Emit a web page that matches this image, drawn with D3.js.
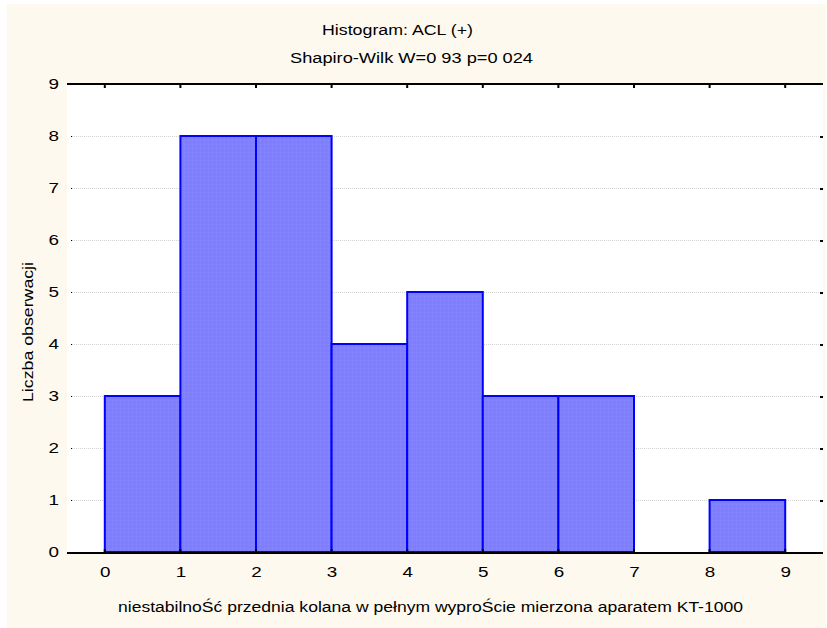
<!DOCTYPE html>
<html>
<head>
<meta charset="utf-8">
<script src="https://cdn.jsdelivr.net/npm/d3@7"></script>
<style>
  html, body { margin: 0; padding: 0; background: #ffffff; }
  svg { display: block; }
  text { font-family: "Liberation Sans", Arial, sans-serif; fill: #000; }
</style>
</head>
<body>
<svg id="chart" width="827" height="628"></svg>
<script>
// Histogram bins: lower edge of each bin and number of observations in it
const binStarts = [0, 1, 2, 3, 4, 5, 6, 7, 8];
const binCounts = [3, 8, 8, 4, 5, 3, 3, 0, 1];

const xTickValues = [0, 1, 2, 3, 4, 5, 6, 7, 8, 9];
const yTickValues = [0, 1, 2, 3, 4, 5, 6, 7, 8, 9];

const titleLine1 = "Histogram: ACL (+)";
const titleLine2 = "Shapiro-Wilk W=0 93 p=0 024";
const xTitle = "niestabilnoŚć przednia kolana w pełnym wyproŚcie mierzona aparatem KT-1000";
const yTitle = "Liczba obserwacji";

const svg = d3.select("#chart");

// plot frame
const plot = { left: 67, right: 823, top: 84, bottom: 552 };

const x = d3.scaleLinear().domain([-0.5, 9.5]).range([plot.left, plot.right]);
const y = d3.scaleLinear().domain([0, 9]).range([plot.bottom, plot.top]);

// cream page background
svg.append("rect")
  .attr("x", 7).attr("y", 4)
  .attr("width", 819).attr("height", 624)
  .attr("fill", "#fef9ef");

// white plotting area
svg.append("rect")
  .attr("x", plot.left).attr("y", plot.top)
  .attr("width", plot.right - plot.left).attr("height", plot.bottom - plot.top)
  .attr("fill", "#ffffff");

// subtle grainy texture for bar fill
const defs = svg.append("defs");
const pat = defs.append("pattern")
  .attr("id", "barfill")
  .attr("patternUnits", "userSpaceOnUse")
  .attr("width", 4).attr("height", 4);
pat.append("rect").attr("width", 4).attr("height", 4).attr("fill", "#8080ff");
pat.append("rect").attr("x", 0).attr("y", 0).attr("width", 1).attr("height", 1).attr("fill", "#8a8aff");
pat.append("rect").attr("x", 2).attr("y", 2).attr("width", 1).attr("height", 1).attr("fill", "#7878f8");

// horizontal dotted gridlines
svg.append("g")
  .selectAll("line")
  .data(yTickValues.filter(v => v > 0 && v < 9))
  .join("line")
  .attr("x1", plot.left + 5).attr("x2", plot.right - 3)
  .attr("y1", d => y(d) + 0.5).attr("y2", d => y(d) + 0.5)
  .attr("stroke", "#d4d4d4")
  .attr("stroke-width", 1)
  .attr("stroke-dasharray", "1,1");

// small tick marks on the left and right edges
svg.append("g")
  .selectAll("rect")
  .data(yTickValues.filter(v => v > 0 && v < 9))
  .join("rect")
  .attr("x", plot.left + 4).attr("y", d => y(d))
  .attr("width", 1).attr("height", 1)
  .attr("fill", "#000");
svg.append("g")
  .selectAll("rect")
  .data(yTickValues.filter(v => v > 0 && v < 9))
  .join("rect")
  .attr("x", plot.right - 3).attr("y", d => y(d))
  .attr("width", 3).attr("height", 2)
  .attr("fill", "#000");

// histogram bars
const bins = binStarts.map((s, i) => ({ x0: s, x1: s + 1, n: binCounts[i] }));
svg.append("g")
  .selectAll("rect")
  .data(bins.filter(d => d.n > 0))
  .join("rect")
  .attr("x", d => x(d.x0))
  .attr("y", d => y(d.n))
  .attr("width", d => x(d.x1) - x(d.x0))
  .attr("height", d => y(0) - y(d.n))
  .attr("fill", "url(#barfill)")
  .attr("stroke", "#0000ff")
  .attr("stroke-width", 2);

// top and bottom frame lines
svg.append("line")
  .attr("x1", plot.left).attr("x2", plot.right)
  .attr("y1", plot.top).attr("y2", plot.top)
  .attr("stroke", "#000").attr("stroke-width", 2);
svg.append("line")
  .attr("x1", plot.left).attr("x2", plot.right)
  .attr("y1", plot.bottom + 1).attr("y2", plot.bottom + 1)
  .attr("stroke", "#000").attr("stroke-width", 2);

// inner ticks along top and bottom edges
svg.append("g")
  .selectAll("rect")
  .data(xTickValues)
  .join("rect")
  .attr("x", d => x(d) - 1).attr("y", plot.top + 1)
  .attr("width", 2).attr("height", 3)
  .attr("fill", "#000");
svg.append("g")
  .selectAll("rect")
  .data(xTickValues)
  .join("rect")
  .attr("x", d => x(d) - 1).attr("y", plot.bottom - 3)
  .attr("width", 2).attr("height", 3)
  .attr("fill", "#000");

// x axis labels
const xAxis = d3.axisBottom(x).tickValues(xTickValues).tickSize(0).tickPadding(15).tickFormat(d3.format("d"));
const gx = svg.append("g").attr("transform", `translate(0,${plot.bottom})`).call(xAxis);
gx.select(".domain").remove();
gx.selectAll("text")
  .attr("font-size", 14)
  .attr("font-family", "Liberation Sans, Arial, sans-serif")
  .attr("fill", "#000")
  .attr("textLength", 10.5)
  .attr("lengthAdjust", "spacingAndGlyphs");

// y axis labels
const yAxis = d3.axisLeft(y).tickValues(yTickValues).tickSize(0).tickPadding(8).tickFormat(d3.format("d"));
const gy = svg.append("g").attr("transform", `translate(${plot.left},0)`).call(yAxis);
gy.select(".domain").remove();
gy.selectAll("text")
  .attr("font-size", 14)
  .attr("font-family", "Liberation Sans, Arial, sans-serif")
  .attr("fill", "#000")
  .attr("textLength", 10.5)
  .attr("lengthAdjust", "spacingAndGlyphs");

// titles
svg.append("text")
  .attr("x", 322).attr("y", 35)
  .attr("font-size", 14)
  .attr("textLength", 151).attr("lengthAdjust", "spacingAndGlyphs")
  .text(titleLine1);
svg.append("text")
  .attr("x", 290).attr("y", 63)
  .attr("font-size", 14)
  .attr("textLength", 243).attr("lengthAdjust", "spacingAndGlyphs")
  .text(titleLine2);

// axis titles
svg.append("text")
  .attr("x", 118).attr("y", 612)
  .attr("font-size", 14)
  .attr("textLength", 625).attr("lengthAdjust", "spacingAndGlyphs")
  .text(xTitle);
svg.append("text")
  .attr("transform", "translate(33,402) rotate(-90)")
  .attr("x", 0).attr("y", 0)
  .attr("font-size", 15)
  .attr("textLength", 140).attr("lengthAdjust", "spacingAndGlyphs")
  .text(yTitle);
</script>
</body>
</html>
